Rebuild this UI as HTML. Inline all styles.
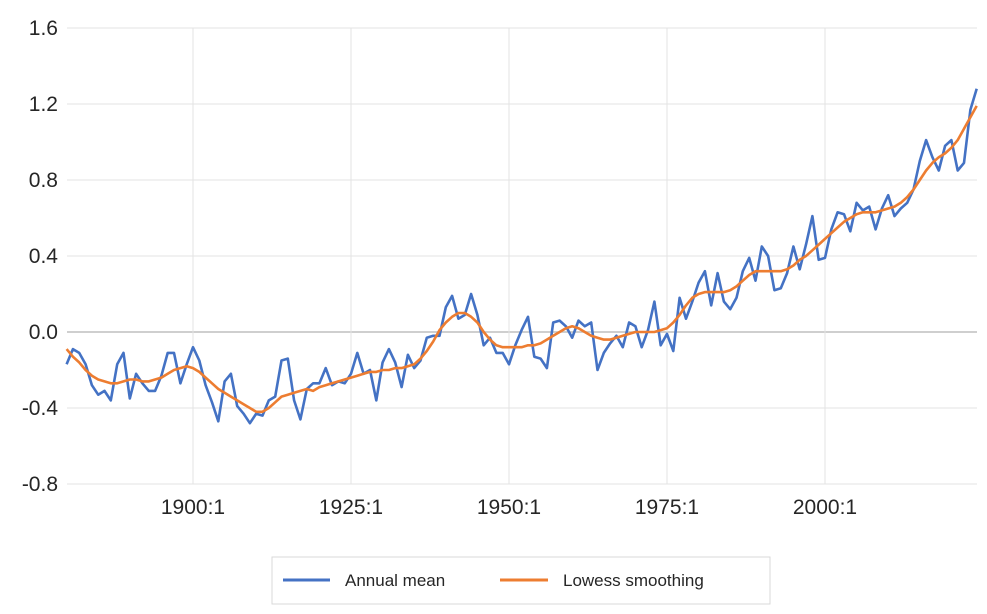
<!DOCTYPE html>
<html><head><meta charset="utf-8"><style>
body{margin:0;background:#fff;width:987px;height:609px;overflow:hidden;font-family:"Liberation Sans",sans-serif}
</style></head><body>
<svg id="chart" width="987" height="609" xmlns="http://www.w3.org/2000/svg">
<g id="grid"></g>
<g id="yax"></g>
<g id="xax"></g>
<g id="series"></g>
<g>
<rect x="272" y="557" width="498" height="47" fill="#fff" stroke="#d9d9d9"/>
<g>
<line x1="283" y1="580" x2="330" y2="580" stroke="#4472c4" stroke-width="3"/>
<text x="345" y="586" font-size="17" fill="#262626">Annual mean</text></g>
<g>
<line x1="500" y1="580" x2="548" y2="580" stroke="#ed7d31" stroke-width="3"/>
<text x="563" y="586" font-size="17" fill="#262626">Lowess smoothing</text></g>
</g>
</svg>
<script>
const startYear = 1880;
const annualMean = [-0.17,-0.09,-0.11,-0.17,-0.28,-0.33,-0.31,-0.36,-0.17,-0.11,
-0.35,-0.22,-0.27,-0.31,-0.31,-0.23,-0.11,-0.11,-0.27,-0.17,
-0.08,-0.15,-0.28,-0.37,-0.47,-0.26,-0.22,-0.39,-0.43,-0.48,
-0.43,-0.44,-0.36,-0.34,-0.15,-0.14,-0.36,-0.46,-0.30,-0.27,
-0.27,-0.19,-0.28,-0.26,-0.27,-0.22,-0.11,-0.22,-0.20,-0.36,
-0.16,-0.09,-0.16,-0.29,-0.12,-0.19,-0.15,-0.03,-0.02,-0.02,
0.13,0.19,0.07,0.09,0.20,0.09,-0.07,-0.03,-0.11,-0.11,
-0.17,-0.07,0.01,0.08,-0.13,-0.14,-0.19,0.05,0.06,0.03,
-0.03,0.06,0.03,0.05,-0.20,-0.11,-0.06,-0.02,-0.08,0.05,
0.03,-0.08,0.01,0.16,-0.07,-0.01,-0.10,0.18,0.07,0.16,
0.26,0.32,0.14,0.31,0.16,0.12,0.18,0.32,0.39,0.27,
0.45,0.40,0.22,0.23,0.31,0.45,0.33,0.46,0.61,0.38,
0.39,0.54,0.63,0.62,0.53,0.68,0.64,0.66,0.54,0.65,
0.72,0.61,0.65,0.68,0.75,0.90,1.01,0.92,0.85,0.98,
1.01,0.85,0.89,1.17,1.28];
const lowess = [-0.09,-0.13,-0.16,-0.20,-0.23,-0.25,-0.26,-0.27,-0.27,-0.26,
-0.25,-0.25,-0.26,-0.26,-0.25,-0.24,-0.22,-0.20,-0.19,-0.18,
-0.19,-0.21,-0.24,-0.27,-0.30,-0.32,-0.34,-0.36,-0.38,-0.40,
-0.42,-0.42,-0.40,-0.37,-0.34,-0.33,-0.32,-0.31,-0.30,-0.31,
-0.29,-0.28,-0.27,-0.26,-0.25,-0.24,-0.23,-0.22,-0.21,-0.21,
-0.20,-0.20,-0.19,-0.19,-0.18,-0.17,-0.14,-0.10,-0.05,0.01,
0.05,0.08,0.10,0.10,0.08,0.05,0.00,-0.04,-0.07,-0.08,
-0.08,-0.08,-0.08,-0.07,-0.07,-0.06,-0.04,-0.02,0.00,0.02,
0.03,0.02,0.00,-0.02,-0.03,-0.04,-0.04,-0.03,-0.02,-0.01,
0.00,0.00,0.00,0.00,0.01,0.02,0.05,0.09,0.14,0.18,
0.20,0.21,0.21,0.21,0.21,0.22,0.24,0.27,0.30,0.32,
0.32,0.32,0.32,0.32,0.33,0.35,0.38,0.40,0.43,0.46,
0.49,0.52,0.55,0.58,0.60,0.62,0.63,0.63,0.63,0.64,
0.65,0.66,0.68,0.71,0.75,0.80,0.85,0.89,0.92,0.94,
0.97,1.01,1.07,1.13,1.19];
const yTicks = [-0.8,-0.4,0.0,0.4,0.8,1.2,1.6];
const xTickYears = [1900,1925,1950,1975,2000];

const NS = "http://www.w3.org/2000/svg";
const x = yr => 193 + (yr - 1900) * 6.32;
const y = v => 332 - v * 190;
function mk(tag, attrs, parent){const e=document.createElementNS(NS,tag);for(const k in attrs)e.setAttribute(k,attrs[k]);parent.appendChild(e);return e;}
const grid=document.getElementById('grid'), yax=document.getElementById('yax'), xax=document.getElementById('xax'), ser=document.getElementById('series');
const L=67, R=977, T=y(1.6), B=y(-0.8);
yTicks.forEach(t=>{
  const ln=mk('line',{x1:L,x2:R,y1:y(t),y2:y(t),stroke:t===0?'#bfbfbf':'#e3e3e3','stroke-width':t===0?1.5:1},grid);
  
  
  const tx=mk('text',{x:58,y:y(t)+7,'text-anchor':'end','font-size':21,fill:'#262626'},yax);
  
  
  tx.textContent=t.toFixed(1);
});
xTickYears.forEach(yr=>{
  const ln=mk('line',{x1:x(yr),x2:x(yr),y1:T,y2:B,stroke:'#e3e3e3','stroke-width':1},grid);
  
  
  const tx=mk('text',{x:x(yr),y:514,'text-anchor':'middle','font-size':21,fill:'#262626'},xax);
  
  
  tx.textContent=yr+':1';
});
function path(arr,color,name){
  const d=arr.map((v,i)=>(i?'L':'M')+x(startYear+i).toFixed(1)+','+y(v).toFixed(1)).join('');
  const p=mk('path',{d:d,fill:'none',stroke:color,'stroke-width':2.6,'stroke-linejoin':'round'},ser);
  
  
}
path(annualMean,'#4472c4','annual-mean-line');
path(lowess,'#ed7d31','lowess-smoothing-line');
</script>
</body></html>
